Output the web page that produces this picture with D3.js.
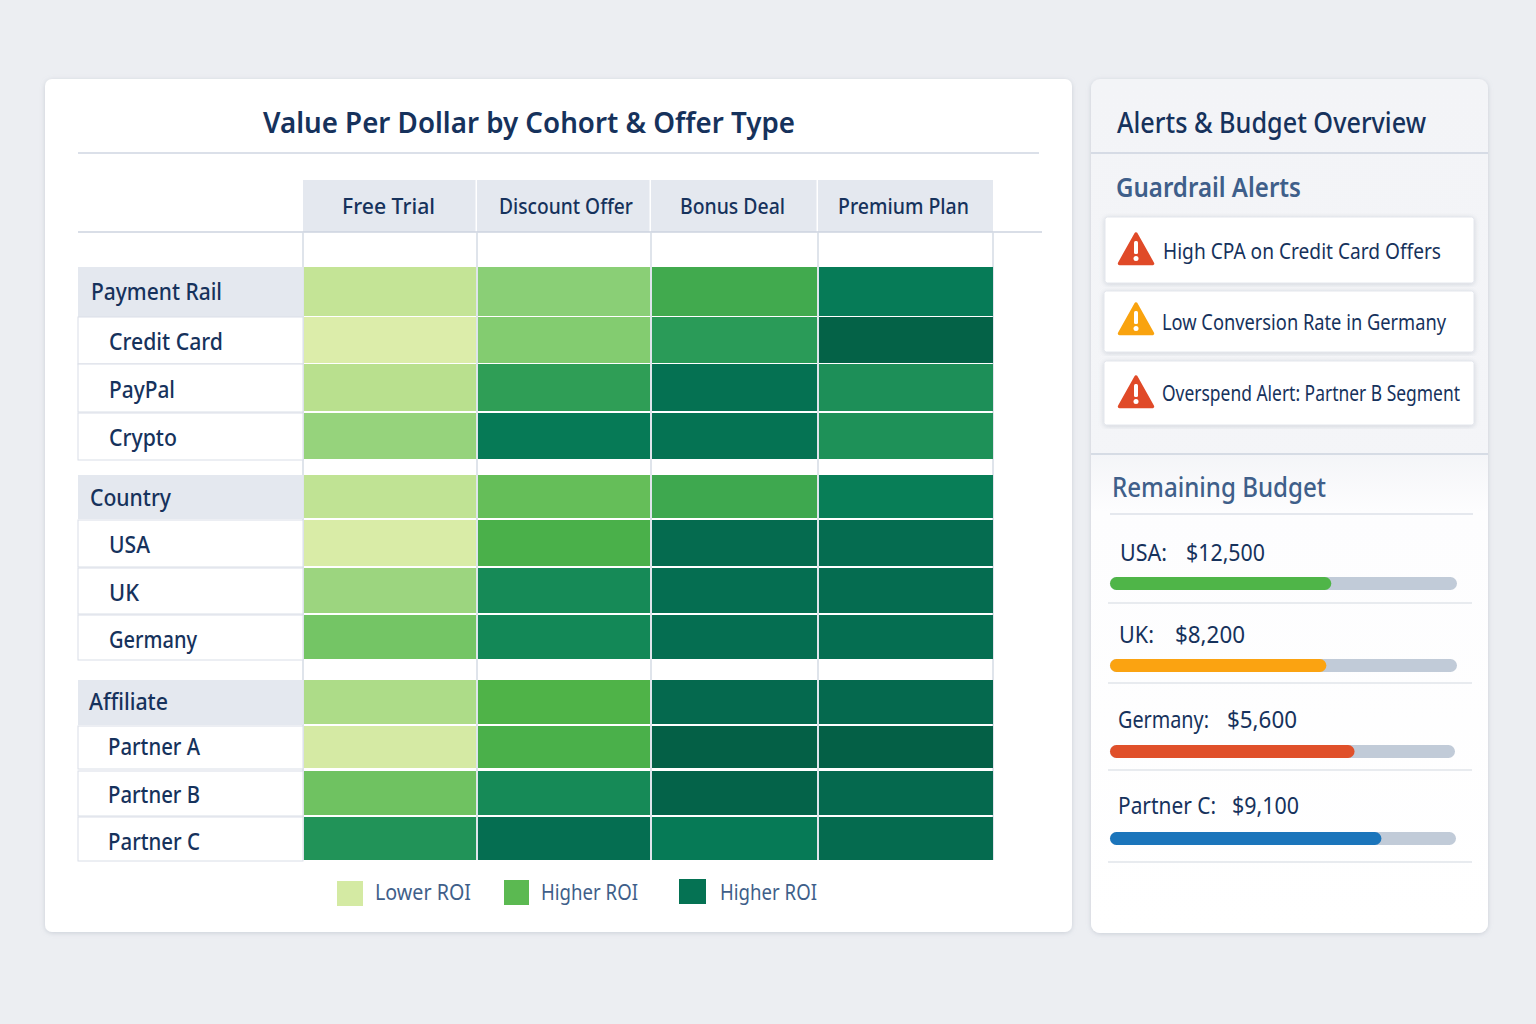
<!DOCTYPE html>
<html>
<head>
<meta charset="utf-8">
<script src="https://cdn.jsdelivr.net/npm/d3@7/dist/d3.min.js"></script>
<style>
  html, body { margin: 0; padding: 0; background: #eceef2; }
  svg { display: block; }
  text { font-family: "Noto Sans", sans-serif; }
</style>
</head>
<body>
<svg id="chart" width="1536" height="1024"></svg>
<script>
// ---- Data ----
const offers = ["Free Trial", "Discount Offer", "Bonus Deal", "Premium Plan"];
const cohorts = ["Payment Rail", "Credit Card", "PayPal", "Crypto", "Country", "USA", "UK", "Germany", "Affiliate", "Partner A", "Partner B", "Partner C"];
const groupCohorts = ["Payment Rail", "Country", "Affiliate"];
const freeTrial     = [0.85, 0.50, 1.00, 1.30, 0.90, 0.55, 1.25, 1.55, 1.10, 0.60, 1.58, 2.30];
const discountOffer = [1.40, 1.45, 2.15, 2.66, 1.65, 1.85, 2.42, 2.45, 1.80, 1.85, 2.42, 2.95];
const bonusDeal     = [1.95, 2.20, 2.88, 2.82, 1.98, 3.05, 2.95, 2.95, 3.10, 3.40, 3.30, 2.66];
const premiumPlan   = [2.62, 3.35, 2.35, 2.33, 2.58, 3.00, 3.00, 2.95, 3.10, 3.40, 3.10, 3.05];
const offerValues = [freeTrial, discountOffer, bonusDeal, premiumPlan];

const legendLabels = ["Lower ROI", "Higher ROI", "Higher ROI"];
const legendValues = [0.62, 1.72, 2.85];

const alertMessages = ["High CPA on Credit Card Offers", "Low Conversion Rate in Germany", "Overspend Alert: Partner B Segment"];
const alertLevels = ["critical", "warning", "critical"];

const budgetNames = ["USA", "UK", "Germany", "Partner C"];
const budgetRemaining = [12500, 8200, 5600, 9100];
const budgetAllocated = [19600, 13150, 7900, 11600];

// ---- Palette ----
const navy = "#16325c", slate = "#3f5f8a", rule = "#d3d9e3";
const roiStops = [0.5, 1.0, 1.4, 1.8, 2.2, 2.6, 3.0, 3.4];
const roiRamp = ["#dcedaa", "#b9e08e", "#8acf76", "#4fb348", "#2a9b58", "#067c57", "#056c50", "#046046"];
const roiColor = d3.scaleLinear().domain(roiStops).range(roiRamp).interpolate(d3.interpolateRgb);
const alertColor = d3.scaleOrdinal(["critical", "warning"], ["#e04a28", "#f9a30f"]);
const budgetColor = d3.scaleOrdinal(budgetNames, ["#4fb548", "#fba311", "#e0502a", "#1b75bb"]);

// ---- Layout ----
const colEdges = [303, 477, 651, 818, 993];
const colX = d3.scaleLinear().domain(d3.range(colEdges.length)).range(colEdges);
const rowTop = d3.scaleOrdinal(cohorts, [267, 317, 364, 413, 475, 520, 568, 615, 680, 726, 771, 817]);
const rowBottom = d3.scaleOrdinal(cohorts, [316, 363, 411, 459, 518, 566, 613, 659, 724, 768, 815, 860]);
const labelLeft = 78;

const svg = d3.select("#chart");
const defs = svg.append("defs");

const shadow = defs.append("filter").attr("id", "cardShadow")
  .attr("x", "-5%").attr("y", "-5%").attr("width", "110%").attr("height", "110%");
shadow.append("feDropShadow").attr("dx", 0).attr("dy", 1).attr("stdDeviation", 2.5)
  .attr("flood-color", "#8a94a6").attr("flood-opacity", 0.35);

const sideFill = defs.append("linearGradient").attr("id", "sideFill")
  .attr("x1", 0).attr("x2", 0).attr("y1", 0).attr("y2", 1);
sideFill.append("stop").attr("offset", "0%").attr("stop-color", "#f3f4f7");
sideFill.append("stop").attr("offset", "100%").attr("stop-color", "#f5f6f9");

const budgetFade = defs.append("linearGradient").attr("id", "budgetFade")
  .attr("x1", 0).attr("x2", 0).attr("y1", 0).attr("y2", 1);
budgetFade.append("stop").attr("offset", "0%").attr("stop-color", "#f4f5f8");
budgetFade.append("stop").attr("offset", "12%").attr("stop-color", "#fdfdfe");
budgetFade.append("stop").attr("offset", "100%").attr("stop-color", "#ffffff");

// Text drawn to a fixed run width so the condensed setting holds across labels.
function label(parent, str, x, baseline, width, size, weight, fill) {
  return parent.append("text")
    .attr("x", x).attr("y", baseline)
    .attr("textLength", width).attr("lengthAdjust", "spacingAndGlyphs")
    .attr("font-size", size).attr("font-weight", weight).attr("fill", fill)
    .text(str);
}
function hline(parent, x1, x2, y, color, w) {
  parent.append("line").attr("x1", x1).attr("x2", x2).attr("y1", y).attr("y2", y)
    .attr("stroke", color).attr("stroke-width", w || 1.5);
}

// ---- Heatmap card ----
const card = svg.append("g");
card.append("rect").attr("x", 45).attr("y", 79).attr("width", 1027).attr("height", 853)
  .attr("rx", 7).attr("fill", "#fff").attr("filter", "url(#cardShadow)");
label(card, "Value Per Dollar by Cohort & Offer Type", 263, 133, 532, 29.5, 600, navy);
hline(card, 78, 1039, 153, "#cfd6e2");

// Column headers
const headerText = [[342, 93], [499, 134], [680, 105], [838, 131]];
const headers = card.append("g");
offers.forEach((name, i) => {
  headers.append("rect").attr("x", colX(i)).attr("y", 180)
    .attr("width", colX(i + 1) - colX(i) - (i === 3 ? 0 : 1.5)).attr("height", 52).attr("fill", "#e4e8ef");
  label(headers, name, headerText[i][0], 214, headerText[i][1], 21, 500, navy);
});
hline(card, 78, 1042, 232, "#ccd3df");

// Vertical grid behind the cells
card.append("g").selectAll("line").data(colEdges).join("line")
  .attr("x1", d => d).attr("x2", d => d).attr("y1", 232).attr("y2", 860)
  .attr("stroke", "#d5dbe5").attr("stroke-width", 1.5);

// Row labels
const rowText = {
  "Payment Rail": [91, 131, 300], "Credit Card": [109, 114, 350], "PayPal": [109, 66, 398],
  "Crypto": [109, 68, 446], "Country": [90, 81, 506], "USA": [109, 41, 553], "UK": [109, 30, 601],
  "Germany": [109, 88, 648], "Affiliate": [89, 79, 710], "Partner A": [108, 92, 755],
  "Partner B": [108, 92, 803], "Partner C": [108, 92, 850]
};
const rowsG = card.append("g");
cohorts.forEach(name => {
  const isGroup = groupCohorts.includes(name);
  rowsG.append("rect").attr("x", labelLeft).attr("y", rowTop(name))
    .attr("width", colEdges[0] - labelLeft).attr("height", rowBottom(name) - rowTop(name) + 1)
    .attr("fill", isGroup ? "#e4e8ef" : "#fff")
    .attr("stroke", "#d9dee7").attr("stroke-width", isGroup ? 0 : 1);
  const t = rowText[name];
  label(rowsG, name, t[0], t[2], t[1], 23, 500, navy);
});

// Heat cells
const cells = cohorts.flatMap((c, r) => offers.map((o, i) => ({ cohort: c, col: i, value: offerValues[i][r] })));
card.append("g").selectAll("rect").data(cells).join("rect")
  .attr("x", d => colX(d.col) + 1)
  .attr("y", d => rowTop(d.cohort))
  .attr("width", d => colX(d.col + 1) - colX(d.col) - (d.col === 3 ? 1 : 2))
  .attr("height", d => rowBottom(d.cohort) - rowTop(d.cohort))
  .attr("fill", d => roiColor(d.value));

// Legend
const legendSwatch = [[337, 881, 26], [504, 880, 25], [679, 879, 27]];
const legendText = [[375, 96], [541, 97], [720, 97]];
const legend = card.append("g");
legendLabels.forEach((name, i) => {
  const s = legendSwatch[i];
  legend.append("rect").attr("x", s[0]).attr("y", s[1]).attr("width", s[2]).attr("height", 25)
    .attr("fill", roiColor(legendValues[i]));
  label(legend, name, legendText[i][0], 900, legendText[i][1], 21.5, 400, slate);
});

// ---- Side panel ----
const side = svg.append("g");
side.append("rect").attr("x", 1091).attr("y", 79).attr("width", 397).attr("height", 854)
  .attr("rx", 9).attr("fill", "url(#sideFill)").attr("filter", "url(#cardShadow)");
side.append("path")
  .attr("d", "M1091,454H1488V924a9,9 0 0 1 -9,9H1100a9,9 0 0 1 -9,-9Z")
  .attr("fill", "url(#budgetFade)");
label(side, "Alerts & Budget Overview", 1117, 133, 309, 28.5, 500, navy);
hline(side, 1091, 1488, 153, "#ccd3df");
hline(side, 1091, 1488, 454, "#ccd3df");
label(side, "Guardrail Alerts", 1116, 197, 185, 26.5, 600, slate);

// Alert rows
const alertBox = [[1105, 217, 369, 66], [1104, 291, 370, 61], [1104, 361, 370, 64]];
const alertIcon = [[1136, 232], [1136, 302], [1136, 375]];
const alertText = [[1163, 259, 278], [1162, 330, 284], [1162, 401, 298]];
alertMessages.forEach((msg, i) => {
  const g = side.append("g");
  const b = alertBox[i];
  g.append("rect").attr("x", b[0]).attr("y", b[1]).attr("width", b[2]).attr("height", b[3])
    .attr("rx", 2.5).attr("fill", "#fff").attr("stroke", "#e3e6ec").attr("filter", "url(#cardShadow)");
  const [cx, top] = alertIcon[i];
  g.append("path")
    .attr("d", `M${cx},${top + 2}L${cx + 16.5},${top + 31.5}H${cx - 16.5}Z`)
    .attr("fill", alertColor(alertLevels[i])).attr("stroke", alertColor(alertLevels[i]))
    .attr("stroke-width", 3.5).attr("stroke-linejoin", "round");
  g.append("rect").attr("x", cx - 2).attr("y", top + 9).attr("width", 4).attr("height", 13)
    .attr("rx", 1.5).attr("fill", "#fff");
  g.append("circle").attr("cx", cx).attr("cy", top + 26.5).attr("r", 2.5).attr("fill", "#fff");
  const t = alertText[i];
  label(g, msg, t[0], t[1], t[2], 21.5, 400, navy);
});

// Remaining budget
label(side, "Remaining Budget", 1112, 497, 214, 26.5, 500, slate);
hline(side, 1110, 1473, 514, "#dde1e8");

const budgetName = [[1120, 47], [1119, 35], [1118, 91], [1118, 98]];
const budgetAmount = [[1186, 79], [1175, 70], [1227, 70], [1232, 67]];
const budgetBase = [561, 643, 728, 814];
const trackTop = [577, 659, 745, 832];
const trackEnd = [1457, 1457, 1455, 1456];
const sepY = [603, 683, 770, 862];
const money = d3.format("$,");

budgetNames.forEach((name, i) => {
  const g = side.append("g");
  label(g, name + ":", budgetName[i][0], budgetBase[i], budgetName[i][1], 23.5, 400, navy);
  label(g, money(budgetRemaining[i]), budgetAmount[i][0], budgetBase[i], budgetAmount[i][1], 23.5, 400, navy);
  const x = d3.scaleLinear().domain([0, budgetAllocated[i]]).range([1110, trackEnd[i]]);
  g.append("rect").attr("x", x(0)).attr("y", trackTop[i]).attr("width", x.range()[1] - x(0)).attr("height", 13)
    .attr("rx", 6.5).attr("fill", "#c1cbd8");
  g.append("rect").attr("x", x(0)).attr("y", trackTop[i]).attr("width", x(budgetRemaining[i]) - x(0)).attr("height", 13)
    .attr("rx", 6.5).attr("fill", budgetColor(name));
  hline(g, 1108, 1472, sepY[i], "#e1e4ea");
});
</script>
</body>
</html>
